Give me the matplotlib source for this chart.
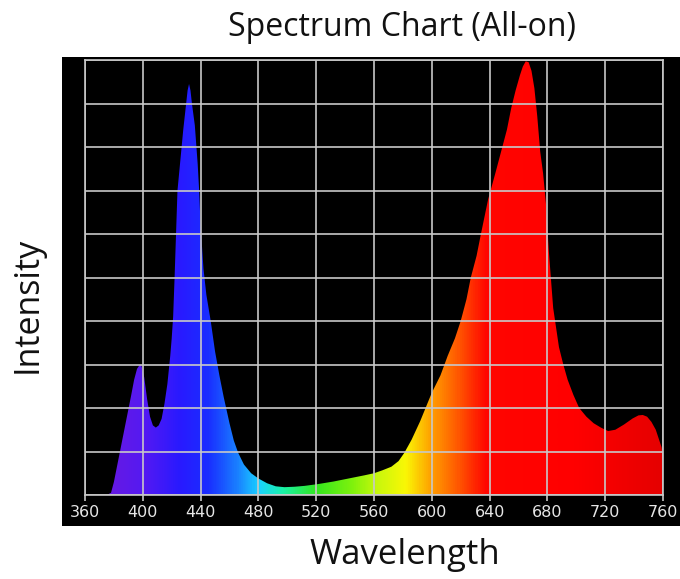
import numpy as np
import matplotlib.pyplot as plt
from matplotlib.patches import Polygon, Rectangle
from matplotlib.colors import LinearSegmentedColormap

# spectrum (nm, relative intensity 0..10)
wavelength = [375, 378, 380, 383, 386, 389, 392, 394, 396, 398, 399, 401, 403, 405,
              407, 409, 411, 413, 415, 417, 419, 420, 421, 422, 423, 424, 426, 428,
              430, 431, 432, 433, 434, 436, 438, 439, 440, 442, 444, 447, 450, 453,
              456, 460, 463, 466, 470, 475, 480, 486, 492, 498, 505, 512, 521, 532,
              544, 553, 560, 566, 572, 577, 581, 586, 592, 600, 606, 611, 616, 620,
              624, 627, 631, 634, 639, 644, 648, 652, 655, 658, 661, 663, 665, 667,
              669, 671, 673, 675, 677, 679, 681, 684, 688, 691, 694, 698, 702, 707,
              712, 717, 722, 727, 733, 739, 743, 746, 749, 752, 755, 757, 759, 760]
intensity = [0.0, 0.05, 0.3, 0.8, 1.3, 1.8, 2.3, 2.65, 2.9, 3.0, 2.98, 2.7, 2.2, 1.8,
             1.6, 1.55, 1.6, 1.75, 2.1, 2.55, 3.2, 3.6, 4.1, 5.0, 6.0, 7.0, 7.7, 8.4,
             9.0, 9.3, 9.45, 9.3, 9.0, 8.5, 7.6, 7.0, 6.2, 5.2, 4.6, 4.0, 3.3, 2.75,
             2.25, 1.65, 1.25, 0.97, 0.7, 0.5, 0.38, 0.27, 0.2, 0.18, 0.19, 0.21, 0.25, 0.31,
             0.39, 0.45, 0.5, 0.57, 0.65, 0.78, 0.97, 1.27, 1.7, 2.35, 2.75, 3.2, 3.6, 4.0,
             4.5, 5.0, 5.5, 6.0, 6.8, 7.4, 7.9, 8.4, 8.9, 9.3, 9.65, 9.85, 9.97, 9.95,
             9.75, 9.35, 8.7, 7.9, 7.4, 6.7, 5.6, 4.3, 3.4, 3.0, 2.65, 2.3, 2.0, 1.8,
             1.65, 1.55, 1.47, 1.5, 1.62, 1.76, 1.83, 1.84, 1.8, 1.68, 1.5, 1.3, 1.1, 0.9]

x_ticks = [360, 400, 440, 480, 520, 560, 600, 640, 680, 720, 760]

# colour of light along the x axis
color_stops = [
    (360, (0.45, 0.10, 0.85)),
    (400, (0.33, 0.10, 0.95)),
    (425, (0.16, 0.10, 1.00)),
    (445, (0.10, 0.18, 1.00)),
    (465, (0.10, 0.50, 1.00)),
    (480, (0.10, 0.82, 1.00)),
    (497, (0.10, 0.95, 0.65)),
    (520, (0.20, 0.90, 0.12)),
    (545, (0.50, 0.95, 0.05)),
    (562, (0.78, 0.97, 0.05)),
    (582, (0.98, 0.97, 0.02)),
    (600, (1.00, 0.62, 0.00)),
    (620, (1.00, 0.32, 0.00)),
    (638, (1.00, 0.02, 0.00)),
    (700, (1.00, 0.00, 0.00)),
    (760, (0.90, 0.00, 0.00)),
]


def main():
    fig = plt.figure(figsize=(6.8, 5.79), dpi=100)
    fig.patch.set_facecolor("white")

    # black panel behind the chart
    fig.patches.append(Rectangle((62 / 680, 1 - 526 / 579), 1 - 62 / 680, (526 - 57) / 579,
                                 transform=fig.transFigure, facecolor="black",
                                 edgecolor="none", zorder=-5))

    ax = fig.add_axes([85 / 680, 1 - 495 / 579, (663 - 85) / 680, (495 - 60) / 579])
    ax.set_zorder(1)
    ax.set_facecolor("black")
    ax.set_xlim(360, 760)
    ax.set_ylim(0, 10)

    lo, hi = color_stops[0][0], color_stops[-1][0]
    cmap = LinearSegmentedColormap.from_list(
        "spec", [((w - lo) / (hi - lo), c) for w, c in color_stops])
    grad = np.linspace(0, 1, 800).reshape(1, -1)
    im = ax.imshow(grad, cmap=cmap, aspect="auto", extent=[lo, hi, 0, 10],
                   origin="lower", zorder=1, interpolation="bilinear")

    verts = [(wavelength[0], 0)] + list(zip(wavelength, intensity)) + [(wavelength[-1], 0)]
    poly = Polygon(verts, closed=True, facecolor="none", edgecolor="none",
                   transform=ax.transData)
    ax.add_patch(poly)
    im.set_clip_path(poly)

    ax.set_xticks(x_ticks)
    ax.set_yticks(range(0, 11))
    ax.grid(True, color="#c8c8c8", linewidth=1.2, zorder=2)
    ax.set_axisbelow(False)
    for s in ax.spines.values():
        s.set_color("#c8c8c8")
        s.set_linewidth(1.2)
    ax.tick_params(axis="x", colors="#c8c8c8", length=4, width=1.2,
                   labelsize=11.5, labelcolor="#e6e6e6", pad=3)
    ax.tick_params(axis="y", length=0, labelleft=False)

    fig.text(402 / 680, 1 - 28 / 579, "Spectrum Chart (All-on)", ha="center", va="center",
             fontsize=23, family="Open Sans", color="#111111")
    fig.text(405 / 680, 1 - 555 / 579, "Wavelength", ha="center", va="center",
             fontsize=25, family="Open Sans", color="#111111")
    fig.text(28 / 680, 1 - 305 / 579, "Intensity", ha="center", va="center",
             rotation=90, fontsize=24.5, family="Open Sans", color="#111111")

    fig.savefig("out.png", dpi=100, facecolor="white")


if __name__ == '__main__':
    main()
